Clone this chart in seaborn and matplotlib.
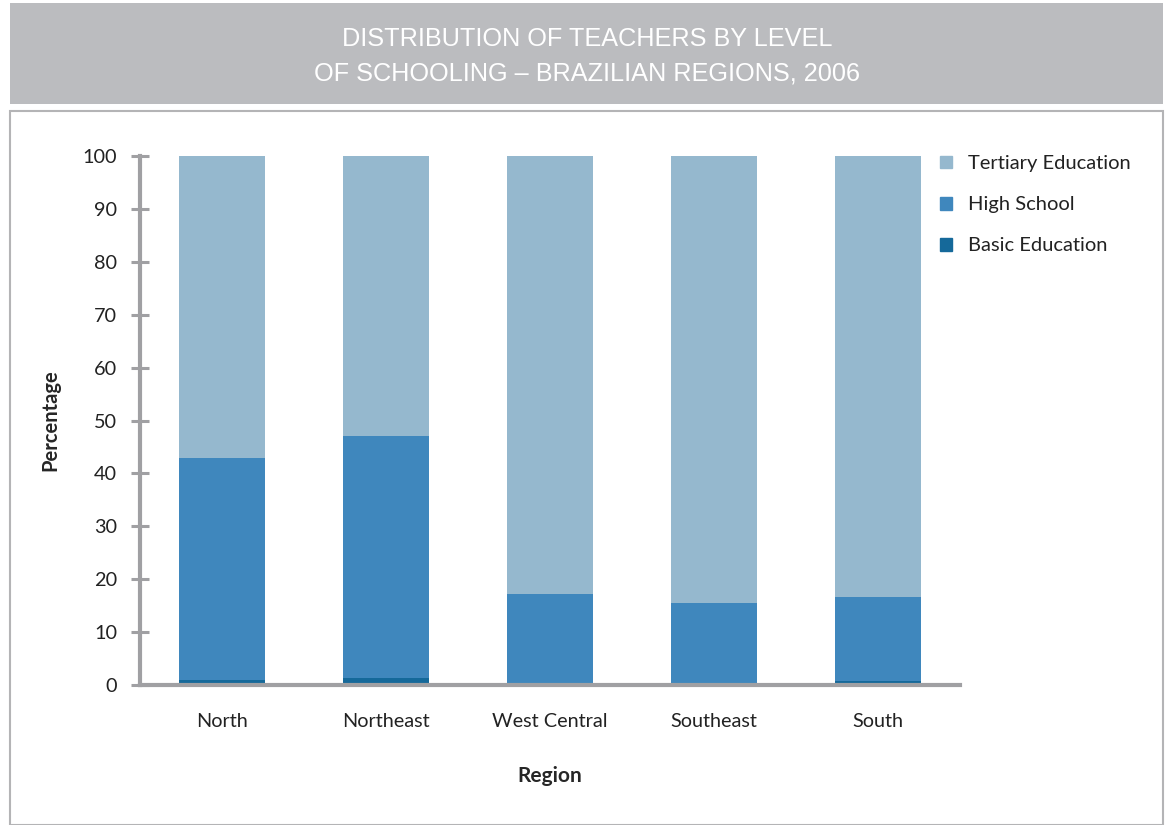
import numpy as np
import pandas as pd
import seaborn as sns
import matplotlib.pyplot as plt
from matplotlib.patches import Rectangle, Patch

# data (percent of teachers)
regions = ["North", "Northeast", "West Central", "Southeast", "South"]
basic = [0.9, 1.35, 0.3, 0.2, 0.7]
high_school = [42.1, 45.65, 16.9, 15.3, 16.0]
tertiary = [57.0, 53.0, 82.8, 84.5, 83.3]

col_tert = "#95b8ce"
col_high = "#3f87bd"
col_basic = "#15699a"
axis_gray = "#a0a0a3"

df = pd.DataFrame({"region": regions, "basic": basic,
                   "high": high_school, "tertiary": tertiary})
df["high_bottom"] = df.basic
df["tert_bottom"] = df.basic + df.high

sns.set_style("white")
plt.rcParams["font.family"] = ["Lato", "DejaVu Sans"]

fig = plt.figure(figsize=(11.66, 8.25), dpi=100)

# title band and framed box behind the plot
fig.patches.append(Rectangle((10 / 1166, 1 - 104 / 825), 1153 / 1166, 101 / 825,
                             transform=fig.transFigure, facecolor="#bbbcbf",
                             edgecolor="none", zorder=-2))
fig.patches.append(Rectangle((10 / 1166, 0), 1153 / 1166, 1 - 111 / 825,
                             transform=fig.transFigure, facecolor="white",
                             edgecolor="#b4b4b6", linewidth=1.5, zorder=-2))

title_font = ["Liberation Sans Narrow", "Liberation Sans", "DejaVu Sans"]
fig.text(587 / 1166, 1 - 39.5 / 825, "DISTRIBUTION OF TEACHERS BY LEVEL",
         ha="center", va="center", color="white", fontsize=18.2, family=title_font)
fig.text(587 / 1166, 1 - 73.5 / 825, "OF SCHOOLING – BRAZILIAN REGIONS, 2006",
         ha="center", va="center", color="white", fontsize=18.2, family=title_font)

ax = fig.add_axes([140 / 1166, 1 - 685 / 825, 820 / 1166, 529 / 825])
ax.patch.set_alpha(0)

w = 0.525
sns.barplot(data=df, x="region", y="basic", color=col_basic, width=w,
            saturation=1, linewidth=0, ax=ax)
sns.barplot(data=df, x="region", y="high", bottom=df.high_bottom, color=col_high,
            width=w, saturation=1, linewidth=0, ax=ax)
sns.barplot(data=df, x="region", y="tertiary", bottom=df.tert_bottom, color=col_tert,
            width=w, saturation=1, linewidth=0, ax=ax)

ax.set_xlim(-0.5, 4.5)
ax.set_ylim(0, 100)
ax.set_yticks(range(0, 101, 10))
sns.despine(ax=ax)
for s in ["left", "bottom"]:
    ax.spines[s].set_color(axis_gray)
    ax.spines[s].set_linewidth(3)
ax.tick_params(axis="y", left=True, direction="inout", length=13, width=2.2,
               color=axis_gray, labelsize=14.3, labelcolor="#222222", pad=10)
ax.tick_params(axis="x", bottom=False, length=0, labelsize=14.3,
               labelcolor="#222222", pad=20)
ax.set_xlabel("Region", fontsize=15, fontweight="bold", labelpad=26)
ax.set_ylabel("Percentage", fontsize=14.5, fontweight="bold", labelpad=16)

handles = [Patch(color=col_tert), Patch(color=col_high), Patch(color=col_basic)]
labels = ["Tertiary Education", "High School", "Basic Education"]
fig.legend(handles, labels, loc="upper left", bbox_to_anchor=(922 / 1166, 1 - 137 / 825),
           frameon=False, fontsize=14.5, handlelength=0.6, handleheight=0.6,
           handletextpad=0.8, labelspacing=1.2, labelcolor="#222222")

fig.savefig("out.png", dpi=100)
